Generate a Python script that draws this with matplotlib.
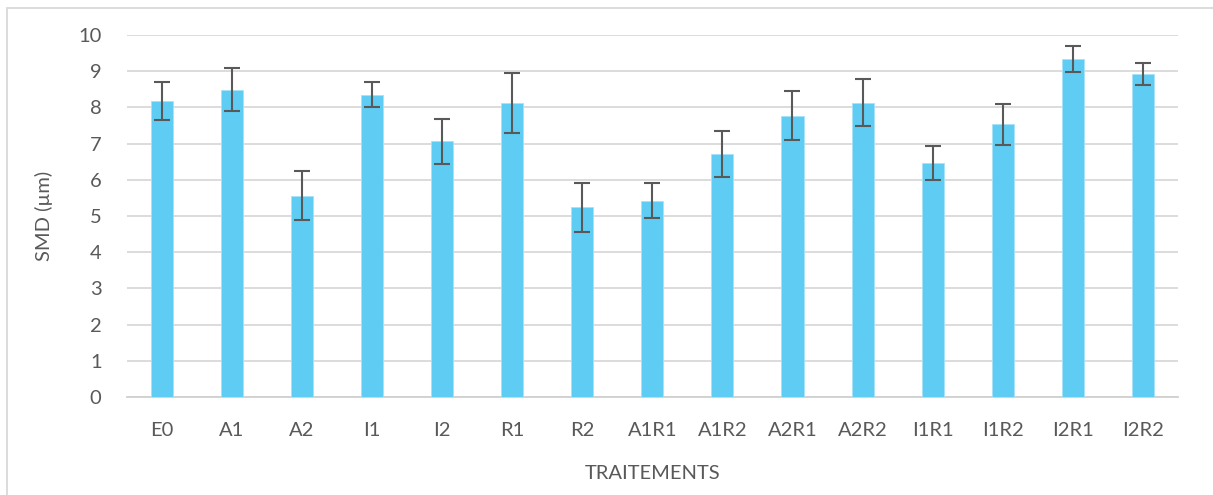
import matplotlib
matplotlib.use("Agg")
import matplotlib.pyplot as plt
from matplotlib.patches import Rectangle
import numpy as np

categories = ["E0", "A1", "A2", "I1", "I2", "R1", "R2", "A1R1", "A1R2",
              "A2R1", "A2R2", "I1R1", "I1R2", "I2R1", "I2R2"]
smd = [8.18, 8.49, 5.56, 8.35, 7.06, 8.13, 5.24, 5.42, 6.72,
       7.77, 8.13, 6.47, 7.53, 9.34, 8.93]
err = [0.52, 0.59, 0.67, 0.35, 0.61, 0.83, 0.67, 0.48, 0.64,
       0.68, 0.65, 0.47, 0.56, 0.36, 0.31]
yticks = [0, 1, 2, 3, 4, 5, 6, 7, 8, 9, 10]

plt.rcParams['font.family'] = ['Lato', 'DejaVu Sans']
text_color = '#595959'

fig = plt.figure(figsize=(12.13, 4.95), dpi=100)
ax = fig.add_axes([126.6 / 1213, 1 - 397 / 495, (1178 - 126.6) / 1213, (397 - 35) / 495])

x = np.arange(len(categories))
ax.bar(x, smd, width=0.315, color='#5ECCF3', edgecolor='#A8E2F8', linewidth=0.6, zorder=3)
ax.errorbar(x, smd, yerr=err, fmt='none', ecolor='#595959', elinewidth=1.5,
            capsize=6, capthick=1.5, zorder=4)

ax.set_xlim(-0.5, len(categories) - 0.5)
ax.set_ylim(0, 10)
ax.set_yticks(yticks)
ax.set_xticks(x)
ax.set_xticklabels(categories)
ax.yaxis.grid(True, color='#D9D9D9', linewidth=1.3, zorder=0)
ax.set_axisbelow(True)
for s in ['top', 'right', 'left']:
    ax.spines[s].set_visible(False)
ax.spines['bottom'].set_color('#D0D0D0')
ax.spines['bottom'].set_linewidth(1.3)
ax.tick_params(axis='both', length=0, labelsize=14.5, colors=text_color)
ax.tick_params(axis='y', pad=18)
ax.tick_params(axis='x', pad=18)

ax.set_xlabel('TRAITEMENTS', fontsize=14.5, color=text_color, labelpad=19)
ax.set_ylabel('SMD (µm)', fontsize=14.5, color=text_color, labelpad=18)

fig.patches.append(Rectangle((7 / 1213, -0.2), 1.2, 1 - 8 / 495 + 0.2,
                             transform=fig.transFigure, fill=False,
                             edgecolor='#D9D9D9', linewidth=1.3))

fig.savefig('out.png', dpi=100)
